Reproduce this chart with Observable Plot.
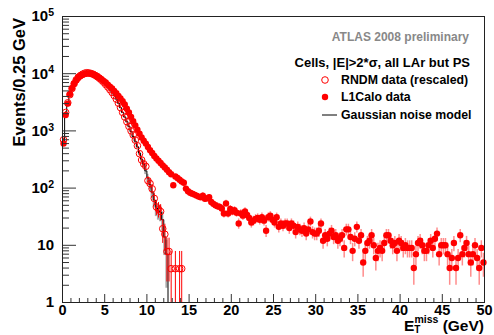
<!DOCTYPE html>
<html><head><meta charset="utf-8">
<script src="https://cdn.jsdelivr.net/npm/d3@7"></script>
<script src="https://cdn.jsdelivr.net/npm/@observablehq/plot@0.6"></script>
<style>body{margin:0;background:#fff}</style>
</head><body><div id="chart"></div>
<script>
// ---- data (bins of 0.25 GeV starting at 0) ----
const binWidth = 0.25;
const l1calo = [
 600,1900,3000,4400,5600,6700,7700,8500,9100,9600,9900,10100,10150,10050,9800,9450,9000,8500,8050,7500,
 7000,6450,5950,5500,5000,4550,4100,3700,3300,2900,2450,2100,1760,1480,1250,1050,890,770,675,600,
 525,460,410,365,330,300,275,250,230,210,190,175,112,160,150,140,131,124,98,88,
 83,80,77,74,71,69,74,65,66,69,57,53,50,48,47,44,36,54,36,43,
 39,41,37,24,36,33,39,34,30,25,27,29,30,28,31,27,18,31,33,28,
 25,31,21,24,22,24,24,20,24,22,17,21,19,18,20,16,19,26,17,16,
 16,18,24,12,15,13,16,18,14,15,12,13,15,9,19,19,14,8,13,21,
 12,15,5,8,11,12,15,10,6,8,9,8,11,15,15,12,10,11,8,12,
 11,9,10,9,9,9,4,7,11,12,10,8,8,10,12,9,13,16,7,10,
 10,10,7,4,6,11,4,6,15,7,9,11,7,5,7,10,6,4,9,5
];
const rndm = [
 700,2100,3100,4300,5500,6700,7800,8700,9300,9800,10200,10400,10300,10100,9800,9350,8850,8300,7700,7100,
 6450,5850,5250,4700,4150,3600,3050,2550,2100,1750,1450,1200,1000,850,690,550,400,310,265,240,
 135,120,97,66,46.8,42.9,39,19.5,15.6,7.8,7.8,3.9,null,3.9,null,3.9,3.9
];
const model = [
 650,2000,3050,4350,5550,6700,7750,8600,9200,9700,10050,10250,10250,10100,9800,9400,8900,8300,7700,7100,
 6450,5850,5250,4700,4150,3600,3050,2550,2100,1750,1450,1200,980,800,660,530,410,320,260,200,
 150,115,85,62,45,40,38,28,14,7
];
const rescale = 3.9;
const xTicks = [0,5,10,15,20,25,30,35,40,45,50];
const yDecades = [1,10,100,1000,10000,100000];
const yLabels = [["1",""],["10",""],["10","2"],["10","3"],["10","4"],["10","5"]];
const yTitle = "Events/0.25 GeV";
const legendTitle = "ATLAS 2008 preliminary";
const legendSubtitle = "Cells, |E|>2*\u03c3, all LAr but PS";
const legendEntries = ["RNDM data (rescaled)", "L1Calo data", "Gaussian noise model"];

// ---- layout ----
const W = 494, H = 335, mL = 62, mR = 10, mT = 16, mB = 33;
const pw = W - mL - mR, ph = H - mT - mB;
const font = "'Liberation Sans', Arial, Helvetica, sans-serif";

const l1 = l1calo.map((v, i) => ({e: binWidth * (i + 0.5), v}));
const rn = rndm.map((v, i) => ({e: binWidth * (i + 0.5), v})).filter(d => d.v != null);
const mdBins = model.map((v, i) => ({x1: binWidth * i, x2: binWidth * (i + 1), v}));
const mdLine = mdBins.map(d => ({x: d.x1, v: d.v})).concat([{x: binWidth * model.length, v: 1}]);
const xMinor = d3.range(0, 51).filter(d => d % 5 !== 0);
const yMinor = yDecades.slice(0, -1).flatMap(d => d3.range(2, 10).map(k => d * k));

const chart = Plot.plot({
  width: W, height: H,
  marginLeft: mL, marginRight: mR, marginTop: mT, marginBottom: mB,
  style: {background: "#fff", fontFamily: font},
  x: {domain: [0, 50]},
  y: {type: "log", domain: [1, 1e5], axis: null},
  marks: [
    Plot.rect(mdBins, {x1: "x1", x2: "x2",
      y1: d => Math.max(d.v - Math.sqrt(rescale * d.v), 0.5),
      y2: d => d.v + Math.sqrt(rescale * d.v),
      fill: "#8c8c8c", fillOpacity: 0.75, clip: true}),
    Plot.line(mdLine, {x: "x", y: "v", curve: "step-after", stroke: "#000", strokeWidth: 1, clip: true}),
    Plot.ruleX(l1, {x: "e", y1: d => d.v - Math.sqrt(d.v), y2: d => d.v + Math.sqrt(d.v),
      stroke: "#ff0000", strokeOpacity: 0.45, strokeWidth: 1.5, clip: true}),
    Plot.dot(l1, {x: "e", y: "v", r: 3.2, fill: "#ff0000", stroke: "none"}),
    Plot.ruleX(rn, {x: "e", y1: d => Math.max(d.v - Math.sqrt(rescale * d.v), 0.5),
      y2: d => d.v + Math.sqrt(rescale * d.v), stroke: "#ff0000", strokeWidth: 1, clip: true}),
    Plot.dot(rn, {x: "e", y: "v", r: 3.3, stroke: "#ff0000", fill: "none", strokeWidth: 1}),
    Plot.tickX(xMinor, {x: d => d, insetTop: ph - 4, stroke: "#333"}),
    Plot.tickX(xTicks, {x: d => d, insetTop: ph - 8, stroke: "#333"}),
    Plot.tickY(yMinor, {y: d => d, insetRight: pw - 7, stroke: "#333"}),
    Plot.tickY(yDecades, {y: d => d, insetRight: pw - 14, stroke: "#333"}),
    Plot.frame({stroke: "#222"}),
    Plot.axisX({ticks: xTicks, tickSize: 0, tickPadding: 2, fontSize: 14.5, fontWeight: "bold", fill: "#000", label: null})
  ]
});
document.getElementById("chart").append(chart);

const ys = chart.scale("y");
const svg = d3.select(chart);
const g = svg.append("g").attr("font-family", font).attr("font-weight", "bold").attr("fill", "#000");

// y tick labels with superscripts
yDecades.forEach((v, i) => {
  const t = g.append("text").attr("x", mL - 8).attr("y", ys.apply(v)).attr("dy", "0.36em")
    .attr("text-anchor", "end").attr("font-size", 15);
  t.append("tspan").text(yLabels[i][0]);
  if (yLabels[i][1]) t.append("tspan").attr("dy", "-0.5em").attr("font-size", 10.5).text(yLabels[i][1]);
});

// y title
g.append("text").attr("transform", `translate(25,${mT + 2}) rotate(-90)`).attr("text-anchor", "end")
  .attr("font-size", 16.5).text(yTitle);

// x title E_T^miss (GeV)
const xt = g.append("text").attr("x", W - mR).attr("y", H - 4).attr("text-anchor", "end").attr("font-size", 15.5);
xt.append("tspan").text("E");
xt.append("tspan").attr("font-size", 10).attr("dy", 2).text("T");
xt.append("tspan").attr("font-size", 10.5).attr("dx", -6).attr("dy", -10.5).text("miss");
xt.append("tspan").attr("dy", 8.5).text(" (GeV)");

// legend
g.append("text").attr("x", 469).attr("y", 41).attr("text-anchor", "end").attr("font-size", 12)
  .attr("fill", "#888").text(legendTitle);
g.append("text").attr("x", 470).attr("y", 67).attr("text-anchor", "end").attr("font-size", 13)
  .text(legendSubtitle);
const ly = [80, 97, 115];
const lg = g.append("g").attr("font-size", 12.3);
lg.append("circle").attr("cx", 325).attr("cy", ly[0]).attr("r", 3.3).attr("fill", "none").attr("stroke", "#ff0000");
lg.append("circle").attr("cx", 325).attr("cy", ly[1]).attr("r", 3.2).attr("fill", "#ff0000");
lg.append("line").attr("x1", 322).attr("x2", 337).attr("y1", ly[2]).attr("y2", ly[2]).attr("stroke", "#000");
legendEntries.forEach((s, i) => {
  lg.append("text").attr("x", 341).attr("y", ly[i]).attr("dy", "0.36em").attr("text-anchor", "start").text(s);
});
</script>
</body></html>
